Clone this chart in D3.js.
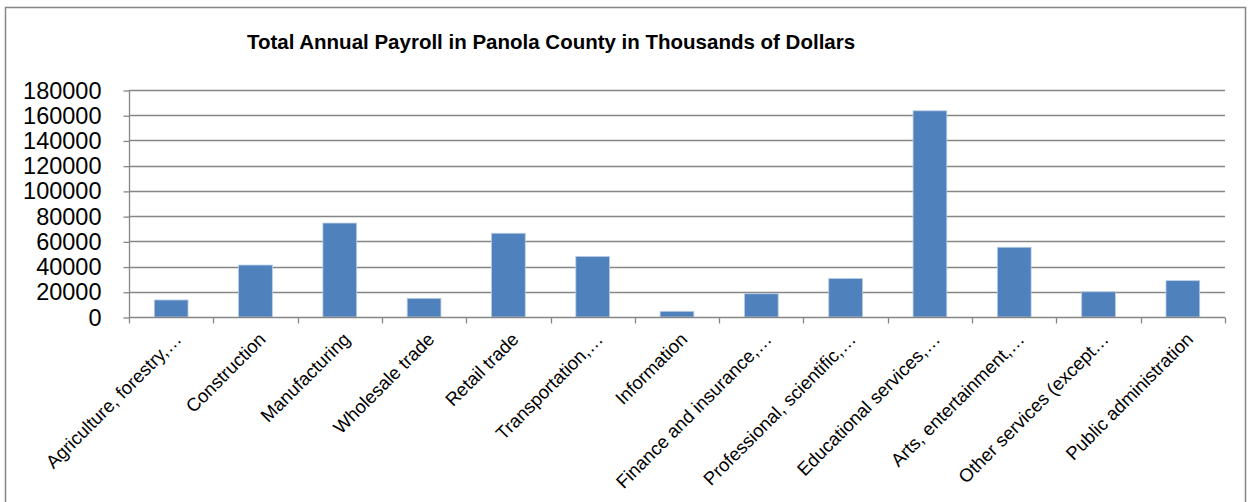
<!DOCTYPE html>
<html><head><meta charset="utf-8">
<script src="https://cdn.jsdelivr.net/npm/d3@7"></script>
<style>html,body{margin:0;padding:0;background:#fff;}</style>
</head><body>
<svg id="chart" width="1251" height="502"></svg>
<script>
const categories = ["Agriculture, forestry,…","Construction","Manufacturing","Wholesale trade","Retail trade","Transportation,…","Information","Finance and insurance,…","Professional, scientific,…","Educational services,…","Arts, entertainment,…","Other services (except…","Public administration"];
const values = [13500, 41200, 74500, 14800, 66400, 48000, 4500, 18400, 30500, 163500, 55300, 20000, 28800];
const yTicks = [0,20000,40000,60000,80000,100000,120000,140000,160000,180000];
const title = "Total Annual Payroll in Panola County in Thousands of Dollars";

const svg = d3.select("#chart");
const font = "'Liberation Sans', Arial, sans-serif";
const plotLeft = 129, plotRight = 1225, plotTop = 90, plotBottom = 317;
const grey = "#868686";

svg.append("rect").attr("x",5.5).attr("y",7.5).attr("width",1240).attr("height",500)
  .attr("fill","#fff").attr("stroke",grey).attr("stroke-width",1.5);

const x = d3.scaleBand().domain(categories).range([plotLeft,plotRight]).padding(0);
const y = d3.scaleLinear().domain([0,180000]).range([plotBottom,plotTop]);

// gridlines
svg.append("g").selectAll("line").data(yTicks.filter(d=>d>0)).join("line")
  .attr("x1",plotLeft).attr("x2",plotRight)
  .attr("y1",d=>Math.round(y(d))+0.5).attr("y2",d=>Math.round(y(d))+0.5)
  .attr("stroke",grey).attr("stroke-width",1.3);

// y axis
const yAxis = d3.axisLeft(y).tickValues(yTicks).tickSize(6).tickPadding(22).tickFormat(d3.format("d"));
const gy = svg.append("g").attr("transform",`translate(${plotLeft+0.5},0.5)`).call(yAxis);
gy.selectAll("path,line").attr("stroke",grey).attr("stroke-width",1.3);
gy.selectAll("text").attr("font-family",font).attr("font-size",23.5).attr("fill","#000");
gy.select(".domain").attr("d",`M0,${y(180000)}V${plotBottom}`);

// bars
const bw = x.bandwidth()*0.4;
svg.append("g").selectAll("rect").data(values).join("rect")
  .attr("x",(d,i)=>x(categories[i])+x.bandwidth()/2-bw/2)
  .attr("y",d=>y(d))
  .attr("width",bw)
  .attr("height",d=>plotBottom-y(d))
  .attr("fill","#4F81BD")
  .attr("stroke","#b8cce4").attr("stroke-width",0.8);

// x axis
const xAxis = d3.axisBottom(x).tickSize(0).tickFormat("");
const gx = svg.append("g").attr("transform",`translate(0,${plotBottom+0.5})`).call(xAxis);
gx.select(".domain").attr("stroke",grey).attr("stroke-width",1.5).attr("d",`M${plotLeft},0H${plotRight}`);
gx.selectAll(".tick").remove();
const bounds = categories.map(c=>x(c)).concat([plotRight]);
gx.selectAll("line.b").data(bounds).join("line").attr("class","b")
  .attr("x1",d=>Math.round(d)+0.5).attr("x2",d=>Math.round(d)+0.5)
  .attr("y1",0).attr("y2",6).attr("stroke",grey).attr("stroke-width",1.3);

// category labels
svg.append("g").selectAll("text").data(categories).join("text")
  .attr("transform",d=>`translate(${x(d)+x.bandwidth()/2+2},${plotBottom+14}) rotate(-45)`)
  .attr("text-anchor","end")
  .attr("dy","0.72em")
  .attr("font-family",font).attr("font-size",18.5).attr("fill","#000")
  .text(d=>d);

// title
svg.append("text").attr("x",551).attr("y",49).attr("text-anchor","middle")
  .attr("font-family",font).attr("font-weight","bold").attr("font-size",20.5).attr("fill","#000")
  .text(title);
</script>
</body></html>
